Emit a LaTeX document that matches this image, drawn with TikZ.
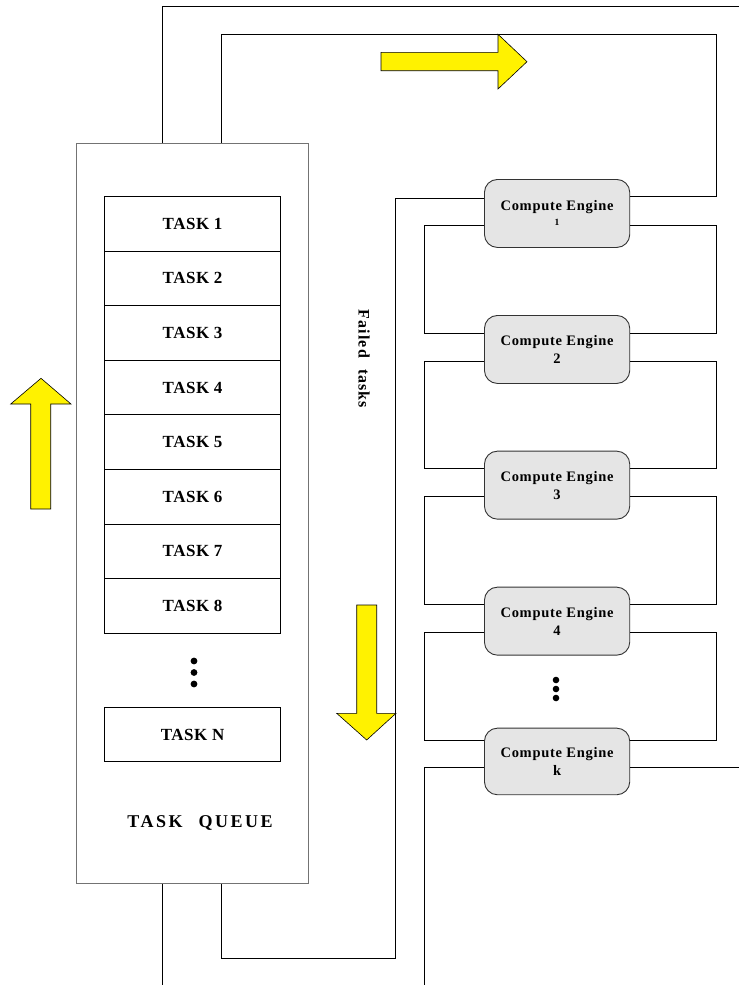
\documentclass[tikz,border=0pt]{standalone}
\usepackage{fontspec}
\setmainfont{Liberation Serif}
\newfontfamily\taskfont[LetterSpace=3]{Liberation Serif}
\newfontfamily\queuefont[LetterSpace=14]{Liberation Serif}
\newfontfamily\enginefont[LetterSpace=5]{Liberation Serif}
\newfontfamily\failfont[LetterSpace=7]{Liberation Serif}
\usetikzlibrary{calc}
\begin{document}
\begin{tikzpicture}[x=1pt,y=-1pt,
  wire/.style={line width=1pt, draw=black},
  queuebox/.style={draw=black!55, line width=0.9pt, minimum width=232.6pt, minimum height=740pt, anchor=north west, inner sep=0pt},
  taskbox/.style={draw, line width=0.9pt, minimum width=175.7pt, minimum height=54.6pt, anchor=north west, inner sep=0pt, font=\taskfont\bfseries\fontsize{17}{19}\selectfont},
  engine/.style={draw=black!80, fill=black!10, rounded corners=13pt, line width=0.9pt, minimum width=145.3pt, minimum height=68pt, anchor=north west, align=center, inner sep=0pt, font=\enginefont\bfseries\fontsize{14.5}{18}\selectfont},
  bigarrow/.style={draw=black, fill=yellow, line width=0.6pt, line join=miter},
  dot/.style={fill=black},
]
\useasboundingbox (0,0) rectangle (739,985);

% task queue and its tasks
\node[queuebox] (q) at (75.7,142.7) {};
\foreach \i in {1,...,8}
  \node[taskbox] (t\i) at (104.3,{196+(\i-1)*54.6}) {TASK \i};
\node[taskbox, minimum height=53.4pt] (tN) at (104.3,707.3) {TASK N};
\foreach \yy in {661,672.5,684} \fill[dot] (194,\yy) circle (3.4);
\node[font=\queuefont\bfseries\fontsize{18}{20}\selectfont] (ql) at (200,823) {TASK\hspace{9pt} QUEUE};

% compute engines
\node[engine] (e1) at (484,179) {Compute Engine\\[-3pt]{\fontsize{9.5}{10}\selectfont 1}};
\node[engine] (e2) at (484,315) {Compute Engine\\2};
\node[engine] (e3) at (484,450.7) {Compute Engine\\3};
\node[engine] (e4) at (484,586.7) {Compute Engine\\4};
\node[engine, minimum height=66.6pt] (ek) at (484,727.7) {Compute Engine\\k};
\foreach \yy in {680,689,698} \fill[dot] (556,\yy) circle (3.3);

% ports on the engines
\coordinate (e1Lu) at ([yshift=-19pt]e1.north west);
\coordinate (e1Ru) at ([yshift=-17pt]e1.north east);
\foreach \e in {1,2,3,4} {
  \coordinate (e\e Ld) at ([yshift=-46pt]e\e.north west);
  \coordinate (e\e Rd) at ([yshift=-46pt]e\e.north east);
}
\foreach \e in {2,3,4} {
  \coordinate (e\e Lu) at ([yshift=-18pt]e\e.north west);
  \coordinate (e\e Ru) at ([yshift=-18pt]e\e.north east);
}
\coordinate (ekLu) at ([yshift=-12.3pt]ek.north west);
\coordinate (ekRu) at ([yshift=-12.3pt]ek.north east);
\coordinate (ekLd) at ([yshift=-40pt]ek.north west);
\coordinate (ekRd) at ([yshift=-40pt]ek.north east);

% ports on the queue
\coordinate (qTi) at ([xshift=145.6pt]q.north west);
\coordinate (qTo) at ([xshift=86.6pt]q.north west);
\coordinate (qBi) at ([xshift=145.6pt]q.south west);
\coordinate (qBo) at ([xshift=86.6pt]q.south west);

% routing guides
\coordinate (L) at (424.3,0);
\coordinate (R) at (716.7,0);
\coordinate (F) at (395.7,0);
\coordinate (E) at (739,0);
\coordinate (IT) at (0,34);
\coordinate (OT) at (0,6.7);
\coordinate (B) at (0,958.3);
\coordinate (Z) at (0,985);

% dispatch loop over the top
\draw[wire] (qTi) -- (qTi |- IT) -- (IT -| R) -- (R |- e1Ru) -- (e1Ru);
% failed tasks back to the queue
\draw[wire] (e1Lu) -- (e1Lu -| F) -- (F |- B) -- (qBi |- B) -- (qBi);
% outer loop
\draw[wire] (qTo) -- (qTo |- OT) -- (OT -| E);
\draw[wire] (qBo) -- (qBo |- Z);
\draw[wire] (ekLd) -- (ekLd -| L) -- (L |- Z);
\draw[wire] (ekRd) -- (ekRd -| E);

% links between neighbouring engines
\foreach \a/\b in {1/2,2/3,3/4,4/k} {
  \draw[wire] (e\a Ld) -- (e\a Ld -| L) -- (L |- e\b Lu) -- (e\b Lu);
  \draw[wire] (e\a Rd) -- (e\a Rd -| R) -- (R |- e\b Ru) -- (e\b Ru);
}

% flow arrows
\draw[bigarrow] (381,52.3) -- (498,52.3) -- (498,34.3) -- (527,61.7) -- (498,89) -- (498,70.7) -- (381,70.7) -- cycle;
\draw[bigarrow] (30.7,509) -- (30.7,404) -- (10.7,404) -- (41,378.3) -- (71,404) -- (50.7,404) -- (50.7,509) -- cycle;
\draw[bigarrow] (356.7,605) -- (376.7,605) -- (376.7,713.3) -- (396,713.3) -- (366.7,740) -- (336.7,713.3) -- (356.7,713.3) -- cycle;

\node[rotate=-90, font=\failfont\bfseries\fontsize{16}{18}\selectfont] (fl) at (364,359) {Failed\hspace{11pt}tasks};
\end{tikzpicture}
\end{document}
